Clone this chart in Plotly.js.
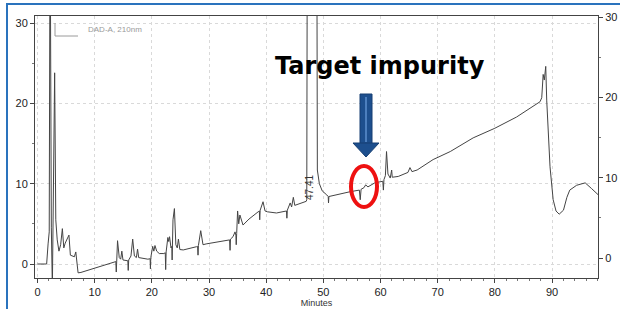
<!DOCTYPE html>
<html>
<head>
<meta charset="utf-8">
<script src="https://cdn.plot.ly/plotly-3.0.1.min.js"></script>
<style>
  html, body { margin: 0; padding: 0; background: #ffffff; }
  #chart { width: 620px; height: 309px; }
</style>
</head>
<body>
<div id="chart"></div>
<script>
// ---- Data (DAD-A, 210 nm) ----
const retentionTime = [
  0, 1.6, 1.85, 2.05, 2.2, 2.42, 2.6, 2.72, 3.0, 3.2, 3.45, 3.75, 4.05, 4.35, 4.6, 4.85, 5.5, 5.75, 6.1, 6.45, 6.7, 6.85, 7.1, 7.6, 8.5,
  10.0, 12.0, 13.2, 13.7, 13.78, 13.85, 14.0, 14.3, 14.55, 14.75, 14.95, 15.8, 15.87, 15.95, 16.35, 16.65, 16.95, 17.3, 17.5, 17.7,
  19.3, 19.7, 19.75, 19.82, 20.15, 20.35, 20.55, 20.85, 21.3, 22.1, 22.35, 22.42, 22.5, 22.8, 22.95, 23.1, 23.35, 23.5, 23.55, 23.62,
  23.7, 23.95, 24.2, 24.45, 24.65, 24.9, 25.5, 27.8, 28.0, 28.08, 28.15, 28.55, 28.95, 29.5, 33.6, 33.68, 33.76, 34.2, 34.55, 34.7,
  34.76, 34.84, 35.0, 35.2, 35.4, 35.95, 37.0, 38.6, 38.8, 38.87, 38.95, 39.45, 39.8, 40.2, 41.8, 43.55, 43.62, 43.7, 44.2, 44.45,
  44.75, 45.0, 47.0, 47.1, 47.2, 48.85, 48.95, 49.3, 49.8, 50.6, 50.85, 50.9, 50.97, 54.7, 56.3, 56.45, 56.6, 57.1, 57.4, 57.8,
  59.0, 60.4, 60.5, 60.6, 60.85, 61.05, 61.3, 61.7, 61.95, 62.05, 63.1, 64.8, 65.15, 65.5, 66.4, 69.2, 72.2, 76.2, 80.0, 83.8,
  87.9, 88.2, 88.45, 88.65, 88.9, 89.07, 89.4, 89.65, 90.2, 90.7, 91.25, 92.0, 92.6, 93.1, 94.3, 95.8, 96.9, 98.1
];
const absorbance = [
  0, 0, 2.5, 4.0, 45, 4.5, -3, 5.5, 23.8, 5.5, 3.0, 1.6, 2.4, 4.4, 2.0, 2.6, 3.6, 1.1, 1.0, 0.9, 1.5, 0.6, -1.1, -1.05, -0.85,
  -0.45, 0.0, 0.25, 0.3, -1.0, 0.4, 2.9, 0.8, 0.6, 1.6, 0.5, 0.4, -0.8, 0.5, 1.0, 3.1, 1.0, 0.8, 1.85, 0.8,
  0.6, 0.65, -0.6, 0.8, 2.2, 1.6, 2.3, 1.6, 1.3, 1.3, 1.4, -0.7, 1.5, 3.3, 2.8, 3.4, 2.0, 2.2, 0.5, 2.0,
  5.5, 6.9, 2.4, 2.0, 3.1, 1.8, 1.75, 2.15, 2.2, 1.1, 2.3, 4.15, 2.4, 2.5, 3.0, 1.7, 3.1, 3.4, 4.0, 3.6,
  2.4, 3.8, 6.6, 5.0, 6.1, 4.85, 5.6, 6.5, 6.6, 5.5, 6.7, 7.75, 6.6, 6.5, 6.35, 6.6, 5.7, 6.7, 7.6, 7.1,
  8.3, 7.3, 7.8, 8.0, 45, 45, 11.7, 10.0, 9.1, 8.6, 8.4, 7.6, 8.4, 9.0, 9.2, 8.0, 9.3, 9.5, 9.85, 9.6,
  10.1, 10.3, 9.2, 10.5, 11.0, 14.0, 11.2, 10.7, 11.7, 10.8, 10.9, 11.4, 12.0, 11.5, 11.7, 13.0, 14.0, 15.7, 16.9, 18.3,
  20.2, 20.7, 23.6, 22.9, 24.6, 20.4, 15.5, 12.1, 8.0, 6.6, 6.2, 6.7, 8.3, 9.2, 9.8, 10.1, 9.4, 8.6
];
const xTickValues = [0, 10, 20, 30, 40, 50, 60, 70, 80, 90];
const yTickValues = [0, 10, 20, 30];
const peakLabel = "47.41";
const calloutText = "Target impurity";
const detectorLabel = "DAD-A, 210nm";
const xAxisTitle = "Minutes";

// ---- Layout geometry (pixels) ----
const W = 620, H = 309;
const M = { l: 35, r: 22, t: 16, b: 31 };
const plotW = W - M.l - M.r, plotH = H - M.t - M.b;
const px = x => (x - M.l) / plotW;          // pixel -> paper x
const py = y => (H - M.b - y) / plotH;      // pixel -> paper y

const axisColor = '#444444';
const tickFont = { family: 'Liberation Sans, Arial, sans-serif', size: 11, color: '#222222' };

const traces = [
  {
    x: retentionTime, y: absorbance, type: 'scatter', mode: 'lines',
    line: { color: '#444444', width: 1 }, hoverinfo: 'skip', showlegend: false
  },
  { x: [], y: [], type: 'scatter', mode: 'lines', yaxis: 'y2', showlegend: false, hoverinfo: 'skip' }
];

const shapes = [
  // blue slide frame
  { type: 'rect', xref: 'paper', yref: 'paper', x0: px(7), x1: px(640), y0: py(4), y1: py(330),
    line: { color: '#2a73bd', width: 2 }, fillcolor: 'rgba(0,0,0,0)', layer: 'below' },
  // detector legend bracket
  { type: 'path', xref: 'paper', yref: 'paper',
    path: `M ${px(55)} ${py(23)} L ${px(55)} ${py(36)} L ${px(78)} ${py(36)}`,
    line: { color: '#9a9a9a', width: 1 } },
  // arrow shaft
  { type: 'rect', xref: 'paper', yref: 'paper', x0: px(360), x1: px(372), y0: py(94), y1: py(144),
    fillcolor: '#1d4f8e', line: { color: '#163f72', width: 1 } },
  { type: 'line', xref: 'paper', yref: 'paper', x0: px(366), x1: px(366), y0: py(97), y1: py(142),
    line: { color: '#4c7fbe', width: 2 } },
  // arrow head
  { type: 'path', xref: 'paper', yref: 'paper',
    path: `M ${px(353)} ${py(143)} L ${px(379)} ${py(143)} L ${px(366)} ${py(157)} Z`,
    fillcolor: '#1d4f8e', line: { color: '#163f72', width: 1 } },
  // red ellipse
  { type: 'circle', xref: 'paper', yref: 'paper', x0: px(351), x1: px(377), y0: py(166), y1: py(207),
    line: { color: '#ee1111', width: 4 }, fillcolor: 'rgba(0,0,0,0)' }
];

const annotations = [
  { text: calloutText, xref: 'paper', yref: 'paper', x: px(380), y: py(66),
    showarrow: false, xanchor: 'center', yanchor: 'middle',
    font: { family: 'DejaVu Sans, Verdana, sans-serif', size: 24, color: '#000000', weight: 'bold' } },
  { text: peakLabel, xref: 'paper', yref: 'paper', x: px(309), y: py(188), textangle: -90,
    showarrow: false, xanchor: 'center', yanchor: 'middle',
    font: { family: 'Liberation Sans, Arial, sans-serif', size: 10, color: '#333333' } },
  { text: detectorLabel, xref: 'paper', yref: 'paper', x: px(86), y: py(30),
    showarrow: false, xanchor: 'left', yanchor: 'middle',
    font: { family: 'Liberation Sans, Arial, sans-serif', size: 8, color: '#9a9a9a' } }
];

const layout = {
  width: W, height: H,
  margin: M,
  paper_bgcolor: '#ffffff', plot_bgcolor: '#ffffff',
  showlegend: false,
  xaxis: {
    range: [(M.l - 37.5) / 5.717, (W - M.r - 37.5) / 5.717],
    tickvals: xTickValues, ticks: 'outside', ticklen: 4, tickcolor: axisColor,
    minor: { dtick: 2, ticks: 'outside', ticklen: 2, tickcolor: '#777777', showgrid: false },
    showline: true, linecolor: axisColor, linewidth: 1, mirror: true,
    showgrid: true, gridcolor: '#d9d9d9', griddash: 'dot', gridwidth: 1,
    zeroline: false, tickfont: tickFont,
    title: { text: xAxisTitle, font: { family: 'Liberation Sans, Arial, sans-serif', size: 9, color: '#333333' }, standoff: 2 }
  },
  yaxis: {
    range: [(264 - (H - M.b)) / 8.033, (264 - M.t) / 8.033],
    tickvals: yTickValues, ticks: 'outside', ticklen: 4, tickcolor: axisColor,
    minor: { dtick: 5, ticks: 'outside', ticklen: 2, tickcolor: '#777777', showgrid: false },
    showline: true, linecolor: axisColor, linewidth: 1,
    showgrid: true, gridcolor: '#d9d9d9', griddash: 'dot', gridwidth: 1,
    zeroline: false, tickfont: tickFont
  },
  yaxis2: {
    overlaying: 'y', side: 'right',
    range: [(258 - (H - M.b)) / 8.033, (258 - M.t) / 8.033],
    tickvals: yTickValues, ticks: 'outside', ticklen: 4, tickcolor: axisColor,
    minor: { dtick: 5, ticks: 'outside', ticklen: 2, tickcolor: '#777777', showgrid: false },
    showline: true, linecolor: axisColor, linewidth: 1,
    showgrid: false, zeroline: false, tickfont: tickFont
  },
  shapes: shapes,
  annotations: annotations
};

Plotly.newPlot('chart', traces, layout, { staticPlot: true, displayModeBar: false });
</script>
</body>
</html>
